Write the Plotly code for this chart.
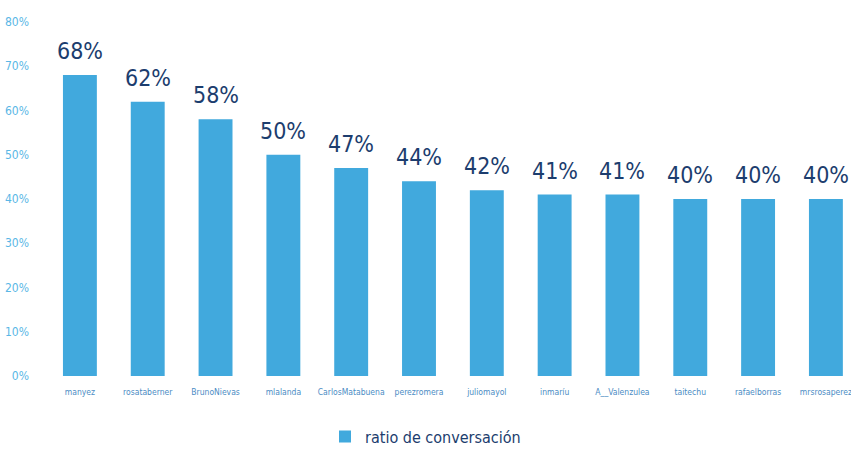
import plotly.graph_objects as go

# Conversation ratio per account
users = ["manyez", "rosataberner", "BrunoNievas", "mlalanda", "CarlosMatabuena",
         "perezromera", "juliomayol", "inmaríu", "A__Valenzulea", "taitechu",
         "rafaelborras", "mrsrosaperez"]
ratios = [0.68, 0.62, 0.58, 0.50, 0.47, 0.44, 0.42, 0.41, 0.41, 0.40, 0.40, 0.40]
y_ticks = [0, 0.1, 0.2, 0.3, 0.4, 0.5, 0.6, 0.7, 0.8]
y_tick_labels = ["0%", "10%", "20%", "30%", "40%", "50%", "60%", "70%", "80%"]
series_name = "ratio de conversación"

FONT = "DejaVu Sans Condensed, Liberation Sans Narrow, sans-serif"
BAR = "#41a9dd"
NAVY = "#1c3d6e"
LIGHT = "#5ab7e6"
MID = "#4b8cc4"

fig = go.Figure()
fig.add_trace(go.Bar(
    x=users, y=ratios, name=series_name,
    marker=dict(color=BAR, line=dict(width=0)),
    width=0.5,
    showlegend=True,
))

for u, r in zip(users, ratios):
    fig.add_annotation(
        x=u, y=r, text=f"{round(r * 100)}%",
        showarrow=False, yanchor="bottom", yshift=9,
        font=dict(family=FONT, size=23, color=NAVY),
    )

fig.update_layout(
    width=851, height=456,
    margin=dict(l=46, r=0, t=22, b=80, autoexpand=False),
    paper_bgcolor="white", plot_bgcolor="white",
    bargap=0.5,
    font=dict(family=FONT),
    xaxis=dict(
        range=[-0.5, 11.37], showgrid=False, zeroline=False, showline=False,
        ticks="", tickangle=0, automargin=False, ticklabelstandoff=9,
        tickfont=dict(family=FONT, size=8.5, color=MID),
    ),
    yaxis=dict(
        range=[0, 0.8], tickvals=y_ticks, ticktext=y_tick_labels,
        showgrid=False, zeroline=False, showline=False, ticks="",
        automargin=False, ticklabelstandoff=16,
        tickfont=dict(family=FONT, size=12, color=LIGHT),
    ),
    legend=dict(
        orientation="h", x=0.5, xanchor="center", xref="container",
        y=0.005, yanchor="bottom", yref="container",
        font=dict(family=FONT, size=16, color=NAVY),
        itemwidth=30,
    ),
)

fig.write_html("out.html")
